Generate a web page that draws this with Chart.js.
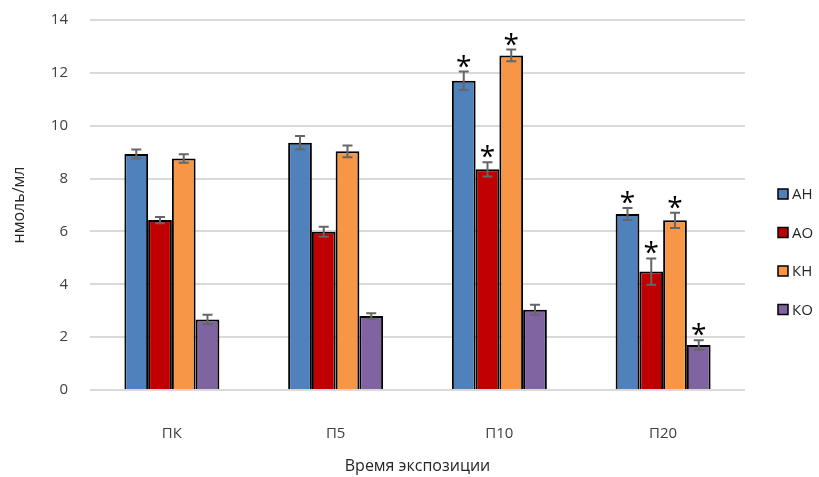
<!DOCTYPE html>
<html>
<head>
<meta charset="utf-8">
<script src="https://cdn.jsdelivr.net/npm/chart.js@4.4.0/dist/chart.umd.min.js"></script>
<style>
  html,body{margin:0;padding:0;background:#fff;}
  #wrap{width:819px;height:477px;}
</style>
</head>
<body>
<div id="wrap"><canvas id="chartMain"></canvas></div>
<script>
/* ==========================================
   DATA
========================================== */
const categories = ["ПК","П5","П10","П20"];

const seriesNames = ["АН","АО","КН","КО"];

const valuesAN = [8.93, 9.36, 11.70, 6.66];
const valuesAO = [6.43, 5.99, 8.35, 4.48];
const valuesKN = [8.76, 9.03, 12.66, 6.42];
const valuesKO = [2.67, 2.80, 3.04, 1.70];

const errAN = [0.17, 0.25, 0.35, 0.23];
const errAO = [0.12, 0.19, 0.27, 0.50];
const errKN = [0.16, 0.22, 0.22, 0.29];
const errKO = [0.18, 0.10, 0.19, 0.18];

// significance marks (*)
const starAN = [false, false, true, true];
const starAO = [false, false, true, true];
const starKN = [false, false, true, true];
const starKO = [false, false, false, true];

const yTicks = [0,2,4,6,8,10,12,14];

const colors = ["#4F81BD","#C00000","#F79646","#8064A2"];

const FONT = "'Open Sans', 'Liberation Sans', sans-serif";

/* ==========================================
   PLUGIN: ERROR BARS, STARS, LEGEND
========================================== */
const extrasPlugin = {
  id:"extras",
  afterDatasetsDraw(chart){

    const ctx = chart.ctx;
    const y = chart.scales.y;

    chart.data.datasets.forEach((ds,di)=>{

      const meta = chart.getDatasetMeta(di);

      meta.data.forEach((bar,i)=>{

        const v = ds.data[i];
        const e = ds.errors[i];
        const yTop = y.getPixelForValue(v+e);
        const yBot = y.getPixelForValue(v-e);

        ctx.save();
        ctx.strokeStyle = "#666666";
        ctx.lineWidth = 2;
        ctx.beginPath();
        ctx.moveTo(bar.x, yTop);
        ctx.lineTo(bar.x, yBot);
        ctx.moveTo(bar.x-5, yTop);
        ctx.lineTo(bar.x+5, yTop);
        ctx.moveTo(bar.x-5, yBot);
        ctx.lineTo(bar.x+5, yBot);
        ctx.stroke();

        if(ds.stars[i]){
          ctx.fillStyle = "#000";
          ctx.font = "28px " + FONT;
          ctx.textAlign = "center";
          ctx.textBaseline = "middle";
          ctx.fillText("*", bar.x, yTop-4);
        }
        ctx.restore();

      });

    });

  },
  afterDraw(chart){

    const ctx = chart.ctx;
    const x0 = 778;
    const y0 = 194;
    const step = 38.5;

    chart.data.datasets.forEach((ds,di)=>{

      const cy = y0 + di*step;

      ctx.save();
      ctx.fillStyle = ds.backgroundColor;
      ctx.strokeStyle = "#000";
      ctx.lineWidth = 1.5;
      ctx.fillRect(x0, cy-5, 10, 10);
      ctx.strokeRect(x0, cy-5, 10, 10);
      ctx.fillStyle = "#262626";
      ctx.font = "15px " + FONT;
      ctx.textAlign = "left";
      ctx.textBaseline = "middle";
      ctx.fillText(ds.label, x0+14, cy+1);
      ctx.restore();

    });

  }
};

/* ==========================================
   CHART
========================================== */
const allValues = [valuesAN,valuesAO,valuesKN,valuesKO];
const allErrors = [errAN,errAO,errKN,errKO];
const allStars = [starAN,starAO,starKN,starKO];

new Chart(
  document.getElementById("chartMain"),
  {
    type:"bar",
    data:{
      labels:categories,
      datasets:seriesNames.map((name,i)=>({
        label:name,
        data:allValues[i],
        errors:allErrors[i],
        stars:allStars[i],
        backgroundColor:colors[i],
        borderColor:"#000",
        borderWidth:2,
        borderSkipped:"bottom",
        categoryPercentage:0.58,
        barPercentage:1.0
      }))
    },
    options:{
      responsive:true,
      maintainAspectRatio:false,
      animation:false,
      layout:{
        padding:{top:20,right:74,left:0,bottom:0}
      },
      plugins:{
        legend:{display:false},
        tooltip:{enabled:false}
      },
      scales:{
        x:{
          grid:{display:false},
          border:{display:false},
          ticks:{
            color:"#404040",
            font:{family:FONT,size:15},
            padding:27
          },
          title:{
            display:true,
            text:"Время экспозиции",
            color:"#262626",
            font:{family:FONT,size:16},
            padding:{top:8,bottom:1}
          },
          afterFit(scale){ scale.height = 87; }
        },
        y:{
          min:0,
          max:14,
          afterBuildTicks(scale){
            scale.ticks = yTicks.map(v=>({value:v}));
          },
          grid:{
            color:"#d9d9d9",
            lineWidth:2,
            drawTicks:false
          },
          border:{display:false},
          ticks:{
            color:"#404040",
            font:{family:FONT,size:15},
            padding:22
          },
          title:{
            display:true,
            text:"нмоль/мл",
            color:"#262626",
            font:{family:FONT,size:16},
            padding:{top:10,bottom:4}
          },
          afterFit(scale){
            scale.width = 90;
            scale.paddingTop = 0;
          }
        }
      }
    },
    plugins:[extrasPlugin]
  }
);
</script>
</body>
</html>
